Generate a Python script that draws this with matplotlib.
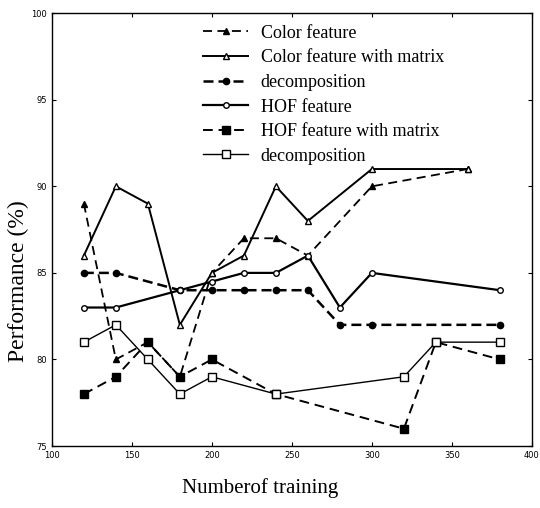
#!/usr/bin/env python3

import matplotlib
matplotlib.use("Agg")
import matplotlib.pyplot as plt

# number of training samples for each series
x_color = [120, 140, 160, 180, 200, 220, 240, 260, 300, 360]
x_color_md = [120, 140, 160, 180, 200, 220, 240, 260, 300, 360]
x_circ = [120, 140, 180, 200, 220, 240, 260, 280, 300, 380]
x_hof = [120, 140, 180, 200, 220, 240, 260, 280, 300, 380]
x_sq = [120, 140, 160, 180, 200, 240, 320, 340, 380]
x_sq_md = [120, 140, 160, 180, 200, 240, 320, 340, 380]

# performance (%)
color_feat = [89, 80, 81, 79, 85, 87, 87, 86, 90, 91]
color_md = [86, 90, 89, 82, 85, 86, 90, 88, 91, 91]
circ_feat = [85, 85, 84, 84, 84, 84, 84, 82, 82, 82]
hof_feat = [83, 83, 84, 84.5, 85, 85, 86, 83, 85, 84]
sq_feat = [78, 79, 81, 79, 80, 78, 76, 81, 80]
hof_md = [81, 82, 80, 78, 79, 78, 79, 81, 81]

legend_labels = ["Color feature", "Color feature with matrix", "decomposition",
                 "HOF feature", "HOF feature with matrix", "decomposition"]

serif = ["Liberation Serif", "DejaVu Serif"]

fig = plt.figure(figsize=(5.4, 5.08), dpi=100)
ax = fig.add_axes([0.096, 0.122, 0.889, 0.852])

ax.plot(x_color, color_feat, color="black", linestyle=(0, (5, 3)), lw=1.3,
        marker="^", ms=5, mfc="black", label=legend_labels[0])
ax.plot(x_color_md, color_md, color="black", linestyle="-", lw=1.4,
        marker="^", ms=5, mfc="white", label=legend_labels[1])
ax.plot(x_circ, circ_feat, color="black", linestyle=(0, (4, 2)), lw=1.8,
        marker="o", ms=4.5, mfc="black", label=legend_labels[2])
ax.plot(x_hof, hof_feat, color="black", linestyle="-", lw=1.6,
        marker="o", ms=4, mfc="white", label=legend_labels[3])
ax.plot(x_sq, sq_feat, color="black", linestyle=(0, (5, 3)), lw=1.4,
        marker="s", ms=6, mfc="black", label=legend_labels[4])
ax.plot(x_sq_md, hof_md, color="black", linestyle="-", lw=1.0,
        marker="s", ms=5.5, mfc="white", label=legend_labels[5])

ax.set_xlim(100, 400)
ax.set_ylim(75, 100)
ax.set_xticks([100, 150, 200, 250, 300, 350, 400])
ax.set_yticks([75, 80, 85, 90, 95, 100])
ax.tick_params(direction="in", top=True, right=True, labelsize=6, length=3)
for s in ax.spines.values():
    s.set_linewidth(1.0)

ax.set_xlabel("Numberof training", family=serif, fontsize=15)
ax.xaxis.set_label_coords(0.433, -0.074)
ax.set_ylabel("Performance (%)", family=serif, fontsize=17)
ax.yaxis.set_label_coords(-0.048, 0.38)

ax.legend(loc="upper left", bbox_to_anchor=(0.30, 0.99), frameon=False,
          prop={"family": serif, "size": 13}, handlelength=2.5,
          handletextpad=0.7, labelspacing=0.42, borderaxespad=0.0)

fig.savefig("out.png", dpi=100)
